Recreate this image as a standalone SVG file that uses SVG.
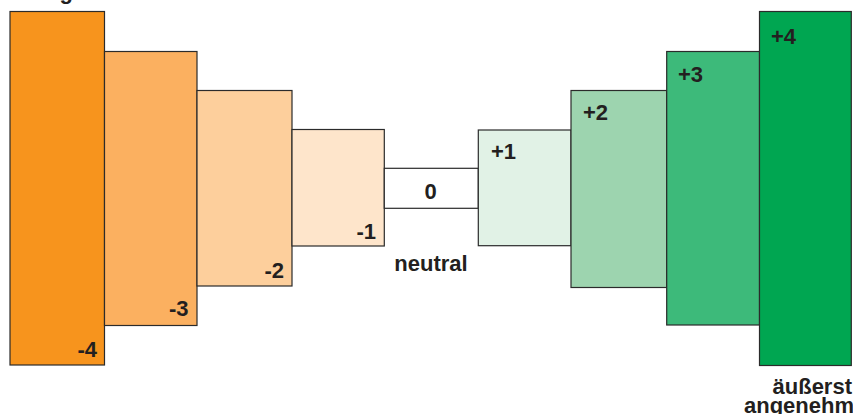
<svg xmlns="http://www.w3.org/2000/svg" width="853" height="414" viewBox="0 0 853 414">
<style>
.box{stroke:#2b2b2b;stroke-width:1.2}
.lbl{font-family:"Liberation Sans",Arial,sans-serif;font-weight:bold;font-size:22px;fill:#231f20}
.end{text-anchor:end}
.mid{text-anchor:middle}
</style>
<rect width="853" height="414" fill="#ffffff"/>
<g id="node-m4"><rect class="box" x="10" y="11.5" width="94.5" height="353.5" fill="#f7941d"/><text class="lbl end" x="97" y="357">-4</text></g>
<g id="node-m3"><rect class="box" x="104.5" y="51.5" width="92.5" height="274" fill="#fbb060"/><text class="lbl end" x="188.5" y="316">-3</text></g>
<g id="node-m2"><rect class="box" x="197" y="90.5" width="95" height="195.5" fill="#fdcf9c"/><text class="lbl end" x="284" y="278">-2</text></g>
<g id="node-m1"><rect class="box" x="292" y="129.5" width="92.3" height="116.5" fill="#fee5cb"/><text class="lbl end" x="376" y="239">-1</text></g>
<g id="node-0"><rect class="box" x="384.3" y="168.3" width="94" height="40" fill="#ffffff"/><text class="lbl mid" x="430.5" y="199">0</text><text class="lbl mid" x="431" y="271" font-size="21">neutral</text></g>
<g id="node-p1"><rect class="box" x="478.3" y="130" width="92.7" height="115.7" fill="#e1f2e6"/><text class="lbl" x="491" y="159">+1</text></g>
<g id="node-p2"><rect class="box" x="571" y="90.5" width="95.7" height="197" fill="#9dd4af"/><text class="lbl" x="583" y="120">+2</text></g>
<g id="node-p3"><rect class="box" x="666.7" y="51.5" width="92.8" height="273.5" fill="#3dba7a"/><text class="lbl" x="678" y="82">+3</text></g>
<g id="node-p4"><rect class="box" x="759.5" y="11.5" width="91.8" height="354" fill="#00a651"/><text class="lbl" x="771" y="44">+4</text><text class="lbl end" x="852" y="394">äußerst</text><text class="lbl end" x="854" y="413">angenehm</text></g>
<g id="node-top"><text class="lbl" x="7" y="-1">unangenehm</text></g>
<g id="connectors"></g>
</svg>
